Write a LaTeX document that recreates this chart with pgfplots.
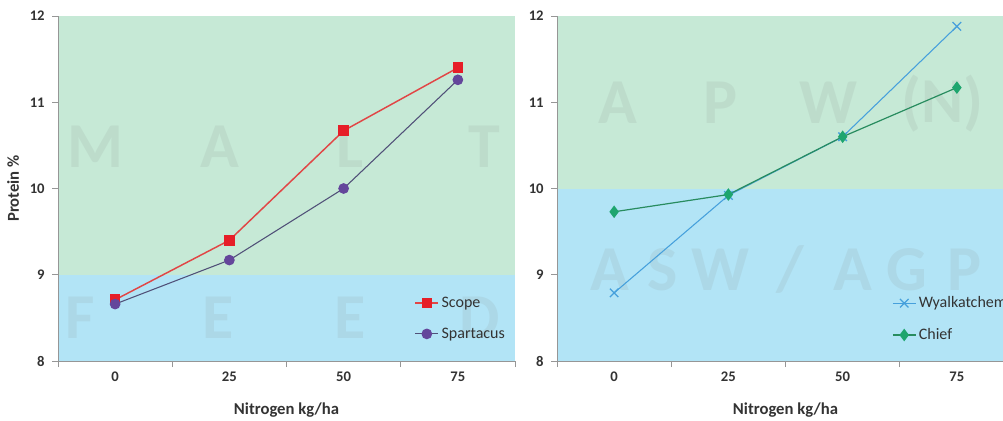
\documentclass[border=0pt]{standalone}
\usepackage{pgfplots}
\pgfplotsset{compat=1.18}
\usepackage{fontspec}
\setmainfont{Carlito}
\definecolor{bggreen}{RGB}{198,233,214}
\definecolor{bgblue}{RGB}{178,228,246}
\definecolor{scopered}{RGB}{230,30,40}
\definecolor{scopeline}{RGB}{225,70,70}
\definecolor{spartpurple}{RGB}{100,70,155}
\definecolor{spartline}{RGB}{80,80,120}
\definecolor{wyablue}{RGB}{70,160,220}
\definecolor{chiefgreen}{RGB}{30,165,110}
\definecolor{chiefline}{RGB}{40,140,95}
\definecolor{axisgray}{RGB}{150,150,150}
\definecolor{wmgray}{RGB}{140,150,146}
\tikzset{wm/.style={font=\bfseries\fontsize{48}{48}\selectfont, text=wmgray, text opacity=0.15, anchor=center, inner sep=0pt}}
\newcommand{\wmk}[3]{\node[wm] at (axis cs:#1,#2) {#3};}
\pgfplotsset{
 myax/.style={
  scale only axis, width=342.75pt, height=258.75pt,
  xmin=-12.5, xmax=87.5, ymin=8, ymax=12,
  axis x line*=bottom, axis y line*=left,
  axis line style={axisgray, line width=0.6pt},
  xtick={0,25,50,75}, minor xtick={-12.5,12.5,37.5,62.5,87.5},
  ytick={8,9,10,11,12},
  tick align=outside,
  major x tick style={draw=none},
  minor tick length=4.5pt, major tick length=4.5pt,
  tick style={axisgray, line width=0.6pt},
  tick label style={font=\bfseries\fontsize{11}{13}\selectfont, text=black!80},
  yticklabel style={xshift=-2pt},
  /pgf/number format/assume math mode=true,
  xlabel={Nitrogen kg/ha},
  xlabel style={font=\bfseries\fontsize{12.5}{14}\selectfont, text=black!80, at={(axis description cs:0.5,-0.142)}, anchor=center},
  axis on top,
  legend style={draw=none, fill=none, font=\fontsize{12}{14}\selectfont, row sep=10pt, anchor=north west, inner sep=0pt, text=black!80},
  legend cell align=left,
 }
}
\begin{document}
\begin{tikzpicture}
% ---------------- left panel
\begin{axis}[myax, at={(43.5pt,45pt)}, anchor=south west,
  ylabel={Protein \%},
  ylabel style={font=\bfseries\fontsize{12.5}{14}\selectfont, text=black!80, at={(axis description cs:-0.0985,0.5)}, anchor=center, rotate=0},
  legend style={at={(axis description cs:0.78,0.195)}}]
\addplot[fill=bggreen, draw=none, forget plot] coordinates {(-12.5,9) (87.5,9) (87.5,12) (-12.5,12)} -- cycle;
\addplot[fill=bgblue, draw=none, forget plot] coordinates {(-12.5,8) (87.5,8) (87.5,9) (-12.5,9)} -- cycle;
\wmk{-4.4}{10.48}{M}
\wmk{22.9}{10.48}{A}
\wmk{51.4}{10.48}{L}
\wmk{80.9}{10.48}{T}
\wmk{-7.7}{8.5}{F}
\wmk{22.5}{8.5}{E}
\wmk{51.4}{8.5}{E}
\wmk{79.8}{8.5}{D}
\addplot[scopeline, line width=1.1pt, mark=square*, mark size=3.4pt, mark options={fill=scopered, draw=scopered, solid}] coordinates {(0,8.71) (25,9.40) (50,10.67) (75,11.40)};
\addlegendentry{Scope}
\addplot[spartline, line width=0.8pt, mark=*, mark size=3.6pt, mark options={fill=spartpurple, draw=spartpurple}] coordinates {(0,8.66) (25,9.17) (50,10.00) (75,11.26)};
\addlegendentry{Spartacus}
\end{axis}
% ---------------- right panel
\begin{axis}[myax, at={(417.75pt,45pt)}, anchor=south west,
  legend style={at={(axis description cs:0.733,0.195)}}]
\addplot[fill=bggreen, draw=none, forget plot] coordinates {(-12.5,10) (87.5,10) (87.5,12) (-12.5,12)} -- cycle;
\addplot[fill=bgblue, draw=none, forget plot] coordinates {(-12.5,8) (87.5,8) (87.5,10) (-12.5,10)} -- cycle;
\wmk{0.8}{10.99}{A}
\wmk{23.2}{10.99}{P}
\wmk{46.8}{10.99}{W}
\wmk{71.9}{10.99}{(N)}
\wmk{-0.9}{9.06}{A}
\wmk{10.7}{9.06}{S}
\wmk{23.2}{9.06}{W}
\wmk{38.5}{9.06}{/}
\wmk{52.2}{9.06}{A}
\wmk{64.1}{9.06}{G}
\wmk{76.7}{9.06}{P}
\addplot[wyablue, line width=0.8pt, mark=x, mark size=4.5pt, mark options={line width=1pt}] coordinates {(0,8.79) (25,9.92) (50,10.60) (75,11.88)};
\addlegendentry{Wyalkatchem}
\addplot[chiefline, line width=0.9pt, mark=diamond*, mark size=4pt, mark options={fill=chiefgreen, draw=chiefgreen}] coordinates {(0,9.73) (25,9.93) (50,10.60) (75,11.17)};
\addlegendentry{Chief}
\end{axis}
\pgfresetboundingbox
\useasboundingbox (0,0) rectangle (752.25pt,315.75pt);
\end{tikzpicture}
\end{document}
